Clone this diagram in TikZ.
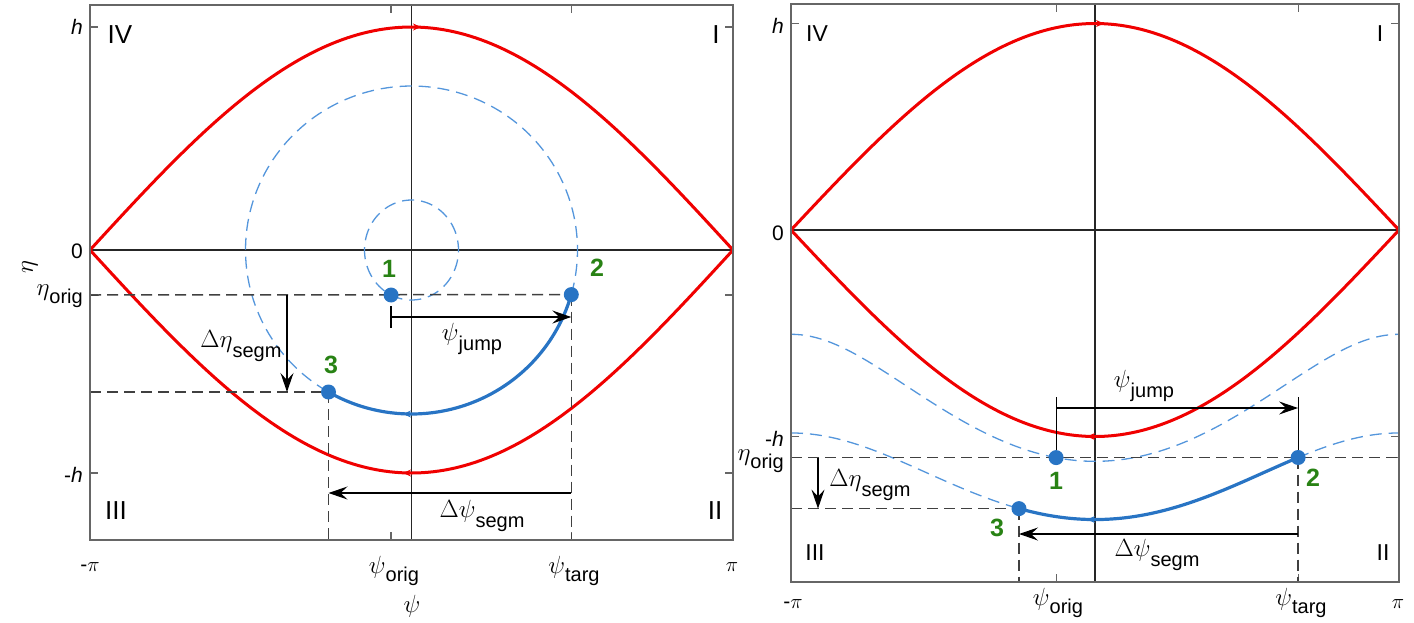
\documentclass[tikz,border=0pt]{standalone}
\usepackage{fontspec}
\setmainfont{Liberation Sans}
\usetikzlibrary{arrows.meta,calc}
\definecolor{sepred}{RGB}{240,0,0}
\definecolor{trajblue}{RGB}{40,116,196}
\definecolor{orbitblue}{RGB}{84,150,220}
\definecolor{numgreen}{RGB}{40,130,20}
\newcommand\sublab[2]{{\fontsize{27}{27}\selectfont$#1$}\raisebox{-0.45em}{\fontsize{20}{20}\selectfont #2}}
\newcommand\ticksub[2]{{\fontsize{25}{25}\selectfont$#1$}\raisebox{-0.4em}{\fontsize{20}{20}\selectfont #2}}
\tikzset{
  frame/.style={draw=black!60, line width=1.2pt},
  tickmark/.style={draw=black!60, line width=1.2pt},
  axisline/.style={draw=black!85, line width=1.1pt},
  sep/.style={draw=sepred, line width=3pt, line join=round},
  traj/.style={draw=trajblue, line width=3.2pt, line cap=round},
  orbit/.style={draw=orbitblue, line width=1.3pt, dash pattern=on 12pt off 7pt},
  guide/.style={draw=black!75, line width=1.5pt, dash pattern=on 11pt off 6pt},
  dimarrow/.style={draw=black, line width=1.2pt, -{Stealth[length=19pt,width=13pt,inset=7pt]}},
  bar/.style={draw=black, line width=1.2pt},
  flowtip/.style={line width=1pt, -{Stealth[length=8pt,width=7pt]}},
  dot/.style={circle, fill=trajblue, inner sep=0pt, minimum size=15pt},
  ticklab/.style={font=\fontsize{21}{21}\selectfont, inner sep=1pt},
  quad/.style={font=\fontsize{26}{26}\selectfont, inner sep=0pt},
  quadR/.style={font=\fontsize{23}{23}\selectfont, inner sep=0pt},
  num/.style={font=\fontsize{25}{25}\selectfont\bfseries, text=numgreen, inner sep=0pt},
  qty/.style={font=\fontsize{22}{22}\selectfont, inner sep=0pt},
}
\begin{document}
\begin{tikzpicture}[x=1pt,y=-1pt]
\useasboundingbox (0,0) rectangle (1414,622);

% ================= LEFT PANEL =================
\draw[axisline] (90,250) -- (733,250);
\draw[axisline] (411.5,5) -- (411.5,540);
\foreach \yy in {27,295,473}{
  \draw[tickmark] (90,\yy) -- +(8,0);
  \draw[tickmark] (733,\yy) -- +(-8,0);
}
\foreach \xx in {391,571.3}{
  \draw[tickmark] (\xx,5) -- +(0,8);
  \draw[tickmark] (\xx,540) -- +(0,-8);
}
% separatrix
\draw[sep] plot[domain=-180:180, samples=121] ({411.5+(\x/180)*321.5},{250-223*cos(\x/2)});
\draw[sep] plot[domain=-180:180, samples=121] ({411.5+(\x/180)*321.5},{250+223*cos(\x/2)});
% dashed orbits
\draw[orbit] plot[domain=-115.8:244.2, samples=100] ({411.5+47*cos(\x)},{250-50*sin(\x)});
\draw[orbit] plot[domain=-15.7:240, samples=140] ({411.5+166*cos(\x)},{250-164*sin(\x)});
% points
\coordinate (p1) at (391.05,295);
\coordinate (p2) at (571.3,294.6);
\coordinate (p3) at (328.5,392);
% guides
\draw[guide] (90,295) -- (p2);
\draw[guide] (90,392) -- (p3);
\draw[guide] (p3) -- (328.5,540);
\draw[guide] (p2) -- (571.3,540);
% trajectory
\draw[traj] plot[domain=-15.7:-120, samples=70] ({411.5+166*cos(\x)},{250-164*sin(\x)});
% flow tips
\draw[flowtip, sepred] (411,27) -- (421,27);
\draw[flowtip, sepred] (413,473) -- (403,473);
\draw[flowtip, trajblue] (413,414) -- (403,414);
% dimension arrows
\coordinate (j1) at (391.05,317);
\coordinate (j2) at (571.3,317);
\draw[bar] (391.05,306) -- (391.05,328);
\draw[dimarrow] (j1) -- (j2);
\coordinate (s1) at (571.3,493);
\coordinate (s2) at (328.5,493);
\draw[dimarrow] (s1) -- (s2);
\coordinate (e1) at (287,295);
\coordinate (e2) at (287,392);
\draw[dimarrow] (e1) -- (e2);
% dots
\node[dot] (d1) at (p1) {};
\node[dot] (d2) at (p2) {};
\node[dot] (d3) at (p3) {};
\draw[frame] (90,5) rectangle (733,540);
% labels
\node[ticklab, anchor=east] (lh) at (84,27) {\textit{h}};
\node[ticklab, anchor=east] (l0) at (84,251) {0};
\node[ticklab, anchor=east] (leo) at (84,296) {\ticksub{\eta}{orig}};
\node[ticklab, anchor=east] (lmh) at (84,475) {-\textit{h}};
\node[ticklab] (lmpi) at (90,567) {-$\pi$};
\node[ticklab] (lpi) at (732,567) {$\pi$};
\node[ticklab] (lpo) at (394,571) {\ticksub{\psi}{orig}};
\node[ticklab] (lpt) at (574,571) {\ticksub{\psi}{targ}};
\node[font=\fontsize{26}{26}\selectfont] (lxl) at (412,606) {$\psi$};
\node[font=\fontsize{26}{26}\selectfont, rotate=90] (lyl) at (30,267) {$\eta$};
\node[quad] (lIV) at (120,35) {IV};
\node[quad] (lI) at (716,35) {I};
\node[quad] (lIII) at (116,511) {III};
\node[quad] (lII) at (715,511) {II};
\node[num] (n1) at (389,269) {1};
\node[num] (n2) at (597,268) {2};
\node[num] (n3) at (331,365) {3};
\node[qty] (lde) at (241,346) {\sublab{\Delta\eta}{segm}};
\node[qty] (lpj) at (472,339) {\sublab{\psi}{jump}};
\node[qty] (ldp) at (482,516) {\sublab{\Delta\psi}{segm}};

% ================= RIGHT PANEL =================
\draw[axisline] (791,230) -- (1399,230);
\draw[axisline] (1095,4) -- (1095,582);
\foreach \yy in {23.5,436.5,457.6}{
  \draw[tickmark] (791,\yy) -- +(8,0);
  \draw[tickmark] (1399,\yy) -- +(-8,0);
}
\foreach \xx in {1056.1,1298.1}{
  \draw[tickmark] (\xx,4) -- +(0,8);
  \draw[tickmark] (\xx,582) -- +(0,-8);
}
\draw[sep] plot[domain=-180:180, samples=121] ({1095+(\x/180)*304},{230-206.5*cos(\x/2)});
\draw[sep] plot[domain=-180:180, samples=121] ({1095+(\x/180)*304},{230+206.5*cos(\x/2)});
\draw[orbit] plot[domain=-180:180, samples=121] ({1095+(\x/180)*304},{230+206.5*sqrt(0.255+pow(cos(\x/2),2))});
\draw[orbit] plot[domain=-180:180, samples=121] ({1095+(\x/180)*304},{230+206.5*sqrt(0.966+pow(cos(\x/2),2))});
\coordinate (q1) at (1056.1,457.6);
\coordinate (q2) at (1298.1,457.5);
\coordinate (q3) at (1019,508.6);
\draw[guide] (791,457.6) -- (1399,457.6);
\draw[guide] (791,508.6) -- (q3);
\draw[guide] (q3) -- (1019,582);
\draw[guide] (q2) -- (1298.1,582);
\draw[traj] plot[domain=120.24:-45, samples=80] ({1095+(\x/180)*304},{230+206.5*sqrt(0.966+pow(cos(\x/2),2))});
\draw[flowtip, sepred] (1094,23.5) -- (1104,23.5);
\draw[flowtip, sepred] (1097,436.5) -- (1087,436.5);
\draw[flowtip, trajblue] (1097,519.5) -- (1087,519.5);
\draw[bar] (1056.1,397) -- (q1);
\draw[bar] (1298.1,397) -- (q2);
\coordinate (k1) at (1056.1,408);
\coordinate (k2) at (1298.1,408);
\draw[dimarrow] (k1) -- (k2);
\coordinate (t1) at (1298.1,534);
\coordinate (t2) at (1019,534);
\draw[dimarrow] (t1) -- (t2);
\coordinate (f1) at (818,457.6);
\coordinate (f2) at (818,508.6);
\draw[dimarrow] (f1) -- (f2);
\node[dot] (r1) at (q1) {};
\node[dot] (r2) at (q2) {};
\node[dot] (r3) at (q3) {};
\draw[frame] (791,4) rectangle (1399,582);
\node[ticklab, anchor=east] (rh) at (785,26) {\textit{h}};
\node[ticklab, anchor=east] (r0) at (785,233) {0};
\node[ticklab, anchor=east] (rmh) at (785,439) {-\textit{h}};
\node[ticklab, anchor=east] (reo) at (785,461) {\ticksub{\eta}{orig}};
\node[ticklab] (rmpi) at (793,604) {-$\pi$};
\node[ticklab] (rpi) at (1398,604) {$\pi$};
\node[ticklab] (rpo) at (1058,603) {\ticksub{\psi}{orig}};
\node[ticklab] (rpt) at (1301,603) {\ticksub{\psi}{targ}};
\node[quadR] (rIV) at (817,34) {IV};
\node[quadR] (rI) at (1380,34) {I};
\node[quadR] (rIII) at (815,553) {III};
\node[quadR] (rII) at (1383,553) {II};
\node[num] (m1) at (1056,481) {1};
\node[num] (m2) at (1313,478) {2};
\node[num] (m3) at (997,528) {3};
\node[qty] (rpj) at (1144,386) {\sublab{\psi}{jump}};
\node[qty] (rdp) at (1157,555) {\sublab{\Delta\psi}{segm}};
\node[qty] (rde) at (870,485) {\sublab{\Delta\eta}{segm}};
\end{tikzpicture}
\end{document}
